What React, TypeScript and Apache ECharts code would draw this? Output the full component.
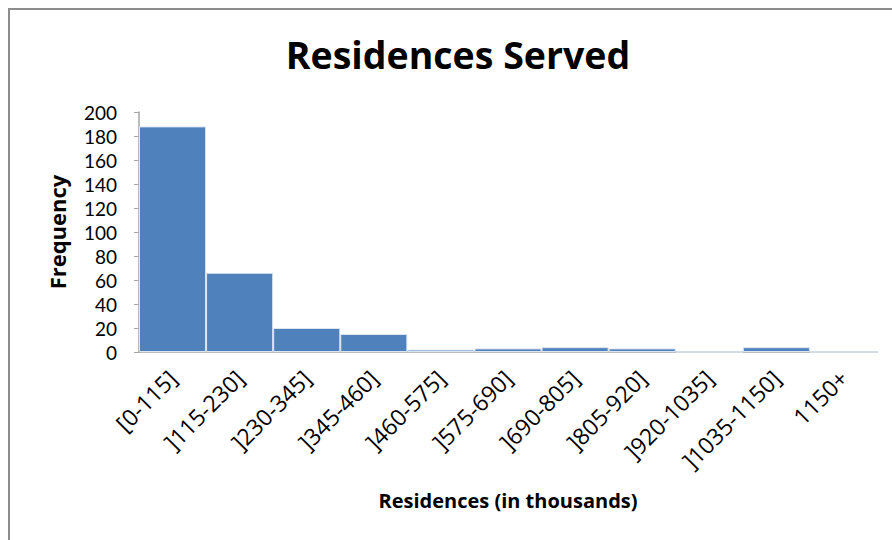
import React, { useEffect, useRef } from "react";
import * as echarts from "echarts";

const categories = [
  "[0-115]",
  "]115-230]",
  "]230-345]",
  "]345-460]",
  "]460-575]",
  "]575-690]",
  "]690-805]",
  "]805-920]",
  "]920-1035]",
  "]1035-1150]",
  "1150+",
];
const frequency = [188, 66, 20, 15, 2, 3, 4, 3, 0, 4, 0];

const FONT = "'Open Sans', Lato, sans-serif";
const TICK_FONT = "Lato, 'Open Sans', sans-serif";

export default function App() {
  const ref = useRef<HTMLDivElement>(null);

  useEffect(() => {
    if (!ref.current) return;
    const chart = echarts.init(ref.current, undefined, { renderer: "svg" });
    chart.setOption({
      animation: false,
      backgroundColor: "#ffffff",
      textStyle: { fontFamily: FONT },
      title: {
        text: "Residences Served",
        left: 453,
        top: 30,
        textAlign: "center",
        textStyle: { fontFamily: FONT, fontSize: 37.5, fontWeight: "bold", color: "#000" },
      },
      graphic: [
        // chart frame, left and top edges
        { type: "rect", shape: { x: 8, y: 8, width: 2, height: 540 }, style: { fill: "#8c8c8c" } },
        { type: "rect", shape: { x: 8, y: 8, width: 892, height: 2 }, style: { fill: "#8c8c8c" } },
      ],
      grid: { left: 139, right: 15, top: 112, bottom: 188, containLabel: false },
      xAxis: {
        type: "category",
        data: categories,
        name: "Residences (in thousands)",
        nameLocation: "middle",
        nameGap: 138,
        nameTextStyle: { fontFamily: FONT, fontSize: 20, fontWeight: "bold", color: "#000" },
        axisLine: { show: true, lineStyle: { color: "#a6a6a6", width: 1.5 } },
        axisTick: { show: false },
        axisLabel: {
          interval: 0,
          rotate: 45,
          margin: 22,
          fontFamily: FONT,
          fontSize: 23,
          color: "#000",
        },
      },
      yAxis: {
        type: "value",
        min: 0,
        max: 200,
        interval: 20,
        name: "Frequency",
        nameLocation: "middle",
        nameGap: 71,
        nameTextStyle: { fontFamily: FONT, fontSize: 22, fontWeight: "bold", color: "#000" },
        axisLine: { show: true, lineStyle: { color: "#a6a6a6", width: 1.5 } },
        axisTick: { show: true, length: 5, lineStyle: { color: "#a6a6a6" } },
        axisLabel: { margin: 22, fontFamily: TICK_FONT, fontSize: 19, lineHeight: 20, color: "#000" },
        splitLine: { show: false },
      },
      series: [
        {
          type: "bar",
          data: frequency,
          barCategoryGap: "0%",
          itemStyle: { color: "#4f81bd", borderColor: "#dce6f2", borderWidth: 1 },
        },
      ],
    });
    return () => chart.dispose();
  }, []);

  return (
    <div
      ref={ref}
      style={{ position: "fixed", left: 0, top: 0, width: 892, height: 540 }}
    />
  );
}
